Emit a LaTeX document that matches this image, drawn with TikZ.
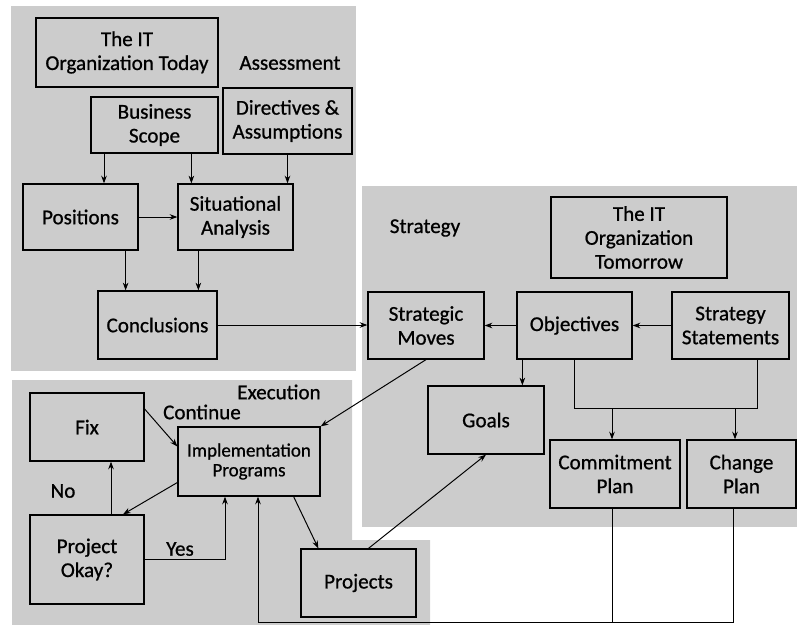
\documentclass[tikz,border=0pt]{standalone}
\usepackage{fontspec}
\setmainfont{Carlito}[BoldFont={Carlito}, BoldFeatures={FakeBold=0.8}]
\usetikzlibrary{arrows.meta}
\def\u{0.025cm}

\begin{document}
\begin{tikzpicture}[x=\u, y=-\u, font=\fontsize{15}{17}\selectfont\bfseries]
	\tikzset{edge/.style={-{Stealth[length=5.5pt,width=4pt]}, line width=0.7pt},
		box/.style 2 args={draw, line width=0.9pt, align=center, inner sep=0pt,
			minimum width=#1*\u, minimum height=#2*\u},
		panel/.style={fill=gray!40, draw=none}}
	\useasboundingbox (0,0) rectangle (797,625);
	% the three areas
	\fill[panel] (11,6) rectangle (356,371);
	\fill[panel] (362,186) rectangle (797,527);
	\fill[panel] (12,380) -- (352,380) -- (352,540) -- (430,540) -- (430,625) -- (12,625) -- cycle;
	% Assessment
	\node(assess) at (290,63){Assessment};
	\node[box={182}{69}](today) at (127,52.5){The IT\\Organization Today};
	\node[box={127}{56}](scope) at (154.5,125){Business\\Scope};
	\node[box={129}{66}](directives) at (287.5,121){Directives \&\\Assumptions};
	\node[box={115}{66}](positions) at (80.5,217){Positions};
	\node[box={115}{66}](situational) at (235.5,217){Situational\\Analysis};
	\node[box={119}{68}](conclusions) at (157.5,325){Conclusions};
	% Strategy
	\node(strategy) at (425,228){Strategy};
	\node[box={176}{81}](tomorrow) at (639,237.5){The IT\\Organization\\Tomorrow};
	\node[box={116}{67}](moves) at (426,325.5){Strategic\\Moves};
	\node[box={115}{67}](objectives) at (574.5,325.5){Objectives};
	\node[box={117}{67}](statements) at (730.5,325.5){Strategy\\Statements};
	\node[box={116}{68}](goals) at (486,420){Goals};
	\node[box={130}{68}](commitment) at (615,474){Commitment\\Plan};
	\node[box={109}{68}](change) at (741.5,474){Change\\Plan};
	% Execution
	\node(execution) at (279,392){Execution};
	\node(continue) at (202,412){Continue};
	\node(no) at (63,491){No};
	\node(yes) at (180,549){Yes};
	\node[box={114}{68}](fix) at (87,427){Fix};
	\node[box={142}{69}, font=\fontsize{13.5}{14}\selectfont\bfseries](impl) at (249,461.5){Implementation\\Programs};
	\node[box={114}{89}](okay) at (87,559.5){Project\\Okay?};
	\node[box={115}{68}](projects) at (358.5,583){Projects};

	\draw[edge] ([xshift=23.5*\u]positions.north |- scope.south) -- ([xshift=23.5*\u]positions.north);
	\draw[edge] ([xshift=14*\u]situational.north west |- scope.south) -- ([xshift=14*\u]situational.north west);
	\draw[edge] (directives.south) -- (directives.south |- situational.north);
	\draw[edge] (positions) -- (situational);
	\draw[edge] ([xshift=-13*\u]positions.south east) -- ([xshift=-13*\u]positions.south east |- conclusions.north);
	\draw[edge] ([xshift=21*\u]situational.south west) -- ([xshift=21*\u]situational.south west |- conclusions.north);
	\draw[edge] (conclusions.east) -- (conclusions.east -| moves.west);
	\draw[edge] (objectives) -- (moves);
	\draw[edge] (statements) -- (objectives);
	\draw[edge] ([xshift=6*\u]objectives.south west) -- ([xshift=6*\u]objectives.south west |- goals.north);
	\draw[line width=0.7pt] (objectives.south) -- ++(0,49) coordinate(join) -| ([xshift=-32*\u]statements.south east);
	\draw[edge] ([xshift=-3*\u]commitment.north |- join) -- ([xshift=-3*\u]commitment.north);
	\draw[edge] ([xshift=-6.5*\u]change.north |- join) -- ([xshift=-6.5*\u]change.north);
	\draw[line width=0.7pt] ([xshift=-3*\u]commitment.south) -- ++(0,114);
	\draw[edge] ([xshift=-8.5*\u]change.south) -- ++(0,114) -| ([xshift=9*\u]impl.south);
	\draw[edge] (moves.south) -- (impl.north east);
	\draw[edge] ([xshift=10*\u]projects.north) -- (goals.south);
	\draw[edge] ([yshift=18*\u]fix.east) -- ([yshift=15*\u]impl.west);
	\draw[edge] ([yshift=-21*\u]impl.west) -- ([xshift=36*\u]okay.north);
	\draw[edge] ([xshift=24*\u]okay.north) -- ([xshift=24*\u]fix.south);
	\draw[edge] (okay.east) -| ([xshift=-24*\u]impl.south);
	\draw[edge] ([xshift=-27*\u]impl.south east) -- ([xshift=18*\u]projects.north west);
\end{tikzpicture}
\end{document}
